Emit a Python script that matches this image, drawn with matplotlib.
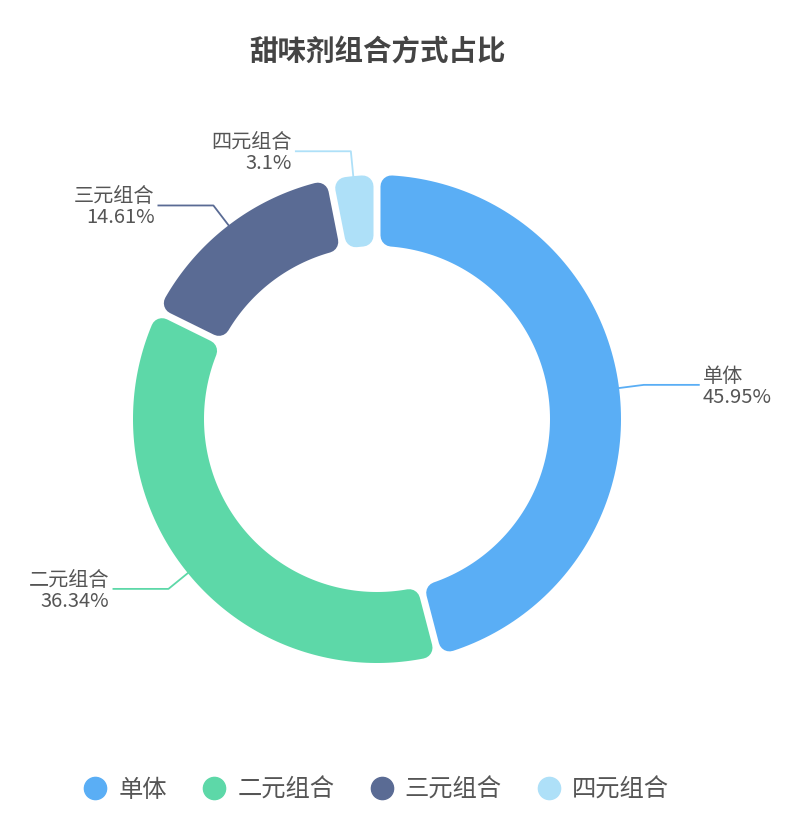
import numpy as np
import matplotlib.pyplot as plt
from matplotlib.patches import Polygon
from matplotlib.lines import Line2D

plt.rcParams['font.family'] = ['Noto Sans CJK SC', 'DejaVu Sans']

title = "甜味剂组合方式占比"
names = ["单体", "二元组合", "三元组合", "四元组合"]
shares = [45.95, 36.34, 14.61, 3.1]
labels = ["45.95%", "36.34%", "14.61%", "3.1%"]
colors = ["#5aaef5", "#5dd8a8", "#5a6b94", "#aee0f8"]

W, H = 804, 813
cx, cy = 377, 419
R, r = 244, 173
rd = 11     # corner rounding (px)
gap = 7     # gap between segments (px)
px = 72 / 100

fig = plt.figure(figsize=(W / 100, H / 100), dpi=100)
ax = fig.add_axes([0, 0, 1, 1])
ax.set_xlim(0, W)
ax.set_ylim(H, 0)
ax.axis("off")


def pt(rad, ang):
    return cx + rad * np.cos(ang), cy - rad * np.sin(ang)


total = sum(shares)
start = np.pi / 2
for name, v, lab, col in zip(names, shares, labels, colors):
    span = v / total * 2 * np.pi
    a1, a2 = start, start - span
    ro, ri = R - rd, r + rd
    do = (gap / 2 + rd) / ro
    di = (gap / 2 + rd) / ri
    outer = np.linspace(a1 - do, a2 + do, 120)
    inner = np.linspace(a2 + di, a1 - di, 120)
    xs = np.concatenate([cx + ro * np.cos(outer), cx + ri * np.cos(inner)])
    ys = np.concatenate([cy - ro * np.sin(outer), cy - ri * np.sin(inner)])
    ax.add_patch(Polygon(np.column_stack([xs, ys]), closed=True, facecolor=col,
                         edgecolor=col, lw=2 * rd * px, joinstyle="round"))

    # label line
    mid = (a1 + a2) / 2
    p0 = pt(R, mid)
    p1 = pt(R + 25, mid)
    side = 1 if np.cos(mid) >= 0 else -1
    p2 = (p1[0] + side * 55, p1[1])
    ax.plot([p0[0], p1[0], p2[0]], [p0[1], p1[1], p2[1]], color=col, lw=1.3)
    ax.text(p2[0] + side * 4, p2[1] + 2, name + "\n" + lab,
            ha="left" if side > 0 else "right", va="center",
            multialignment="left" if side > 0 else "right",
            fontsize=14.5, color="#555555", linespacing=1.0)
    start = a2

ax.text(378, 52, title, ha="center", va="center", fontsize=20.5,
        fontweight="bold", color="#444444")

handles = [Line2D([], [], marker="o", ls="none", markersize=16,
                  markerfacecolor=c, markeredgecolor=c) for c in colors]
ax.legend(handles, names, loc="center", bbox_to_anchor=(376 / W, 1 - 790 / H),
          ncol=4, frameon=False, fontsize=17.5, handletextpad=0.45,
          columnspacing=1.45, handlelength=1.0, labelcolor="#555555")

fig.savefig("out.png", dpi=100, facecolor="white")
